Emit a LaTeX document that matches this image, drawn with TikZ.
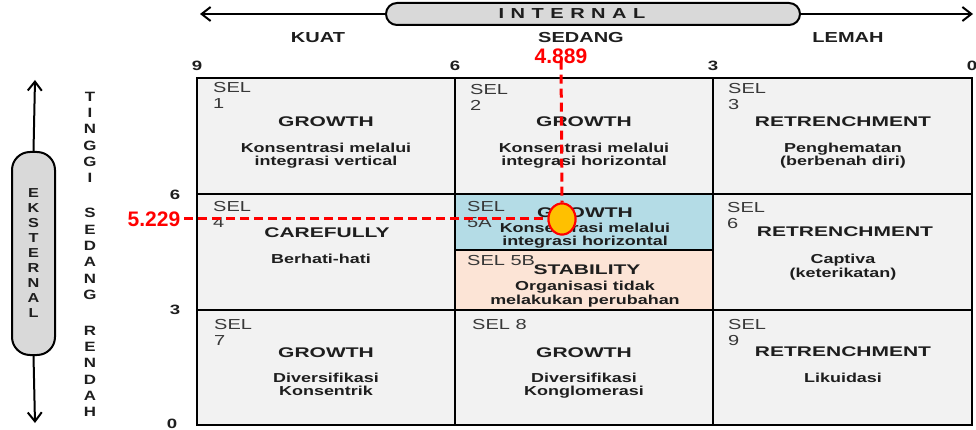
\documentclass[tikz,border=0pt]{standalone}
\usepackage{fontspec}
\setmainfont{Liberation Sans}
\newfontfamily\titlefont[FakeStretch=1.5]{Liberation Sans}
\newfontfamily\widefont[FakeStretch=1.38]{Liberation Sans}
\newfontfamily\stackfont[FakeStretch=1.25]{Liberation Sans}
\usetikzlibrary{arrows.meta,shapes.geometric}
\definecolor{cellgray}{HTML}{F2F2F2}
\definecolor{cellblue}{HTML}{B4DCE6}
\definecolor{cellpeach}{HTML}{FCE4D6}
\definecolor{boxgray}{HTML}{D9D9D9}
\definecolor{txt}{HTML}{1E1E1E}
\definecolor{selgray}{HTML}{383838}
\definecolor{markred}{HTML}{FF0000}
\definecolor{markorange}{HTML}{FFC000}
\begin{document}
\begin{tikzpicture}[x=1pt,y=-1pt,
  cell/.style={draw=black, line width=2.3pt, inner sep=0pt, outer sep=0pt},
  sel/.style={anchor=north west, inner sep=0pt, align=left, text=selgray,
    font=\widefont\fontsize{14.5}{16}\selectfont},
  ttl/.style={anchor=north, inner sep=0pt, text=txt,
    font=\titlefont\bfseries\fontsize{14}{16}\selectfont},
  sub/.style={anchor=north, inner sep=0pt, align=center, text=txt,
    font=\widefont\bfseries\fontsize{13}{13.5}\selectfont},
  axlbl/.style={inner sep=0pt, text=txt, font=\widefont\bfseries\fontsize{14.5}{16}\selectfont},
  numlbl/.style={inner sep=0pt, text=txt, font=\widefont\bfseries\fontsize{13.5}{15}\selectfont},
  stackl/.style={inner sep=0pt, align=center, text=txt,
    font=\stackfont\bfseries\fontsize{13.5}{16.3}\selectfont},
  redlbl/.style={inner sep=0pt, text=markred, font=\bfseries\fontsize{21}{23}\selectfont},
  axis/.style={line width=2pt, -{Straight Barb[length=9pt,width=14pt]}},
  reddash/.style={draw=markred, line width=3pt, dash pattern=on 9pt off 5pt}
]
\useasboundingbox (0,0) rectangle (976,430);

% ---------- top axis ----------
\node[draw=black, line width=2pt, fill=boxgray, rounded corners=11pt,
      minimum width=414pt, minimum height=22pt, inner sep=0pt,
      font=\widefont\bfseries\fontsize{14.5}{16}\selectfont, text=txt]
  (internal) at (593,14) {I\hspace{6.5pt}N\hspace{6.5pt}T\hspace{6.5pt}E\hspace{6.5pt}R\hspace{6.5pt}N\hspace{6.5pt}A\hspace{6.5pt}L\hspace*{42pt}};
\coordinate (tl) at (200,14);
\coordinate (tr) at (973,14);
\draw[axis] (internal.west) -- (tl);
\draw[axis] (internal.east) -- (tr);

\node[axlbl] (kuat) at (318,38) {KUAT};
\node[axlbl] (sedangx) at (581,38) {SEDANG};
\node[axlbl] (lemah) at (848,38) {LEMAH};

\node[numlbl] (x9) at (197,66) {9};
\node[numlbl] (x6) at (455,66) {6};
\node[numlbl] (x3) at (713,66) {3};
\node[numlbl] (x0) at (972,66) {0};

% ---------- left axis ----------
\node[draw=black, line width=2pt, fill=boxgray, rounded corners=18pt,
      minimum width=43pt, minimum height=203pt, inner sep=0pt, align=center,
      font=\stackfont\bfseries\fontsize{13}{15}\selectfont, text=txt]
  (ekst) at (33.5,253.5) {E\\K\\S\\T\\E\\R\\N\\A\\L};
\coordinate (vt) at (35,80);
\coordinate (vb) at (35,423);
\draw[axis] (ekst.north) -- (vt);
\draw[axis] (ekst.south) -- (vb);

\node[stackl] (tinggi) at (90,137.5) {T\\I\\N\\G\\G\\I};
\node[stackl] (sedangy) at (90,254) {S\\E\\D\\A\\N\\G};
\node[stackl] (rendah) at (90,371.5) {R\\E\\N\\D\\A\\H};

\node[numlbl] (y6) at (175,195) {6};
\node[numlbl] (y3) at (175,310) {3};
\node[numlbl] (y0) at (172,424) {0};

% ---------- grid cells ----------
\node[cell, fill=cellgray, minimum width=258pt, minimum height=116pt] (c1) at (326,136) {};
\node[cell, fill=cellgray, minimum width=258pt, minimum height=116pt] (c2) at (584,136) {};
\node[cell, fill=cellgray, minimum width=259pt, minimum height=116pt] (c3) at (842.5,136) {};
\node[cell, fill=cellgray, minimum width=258pt, minimum height=116pt] (c4) at (326,252) {};
\node[cell, fill=cellblue, minimum width=258pt, minimum height=56pt] (c5a) at (584,222) {};
\node[cell, fill=cellpeach, minimum width=258pt, minimum height=60pt] (c5b) at (584,280) {};
\node[cell, fill=cellgray, minimum width=259pt, minimum height=116pt] (c6) at (842.5,252) {};
\node[cell, fill=cellgray, minimum width=258pt, minimum height=115pt] (c7) at (326,367.5) {};
\node[cell, fill=cellgray, minimum width=258pt, minimum height=115pt] (c8) at (584,367.5) {};
\node[cell, fill=cellgray, minimum width=259pt, minimum height=115pt] (c9) at (842.5,367.5) {};

% ---------- cell texts ----------
% cell 1
\node[sel] (s1) at (213,82.5) {SEL\\1};
\node[ttl] (t1) at (326,116.5) {GROWTH};
\node[sub] (d1) at (326,142.5) {Konsentrasi melalui\\integrasi vertical};
% cell 2
\node[sel] (s2) at (470,84) {SEL\\2};
\node[ttl] (t2) at (584,116.5) {GROWTH};
\node[sub] (d2) at (584,142.5) {Konsentrasi melalui\\integrasi horizontal};
% cell 3
\node[sel] (s3) at (728,83) {SEL\\3};
\node[ttl] (t3) at (843,116.5) {RETRENCHMENT};
\node[sub] (d3) at (843,142.5) {Penghematan\\(berbenah diri)};
% cell 4
\node[sel] (s4) at (213,201.5) {SEL\\4};
\node[ttl] (t4) at (327,228) {CAREFULLY};
\node[sub] (d4) at (321,254) {Berhati-hati};
% cell 5A
\node[sel] (s5a) at (467,201) {SEL\\5A};
\node[ttl] (t5a) at (585,208) {GROWTH};
\node[sub, font=\widefont\bfseries\fontsize{13}{12.5}\selectfont] (d5a) at (585,223) {Konsentrasi melalui\\integrasi horizontal};
% cell 5B
\node[sel] (s5b) at (467,255.5) {SEL 5B};
\node[ttl] (t5b) at (587,265) {STABILITY};
\node[sub, font=\widefont\bfseries\fontsize{13}{14}\selectfont] (d5b) at (585,280.5) {Organisasi tidak\\melakukan perubahan};
% cell 6
\node[sel] (s6) at (727,202) {SEL\\6};
\node[ttl] (t6) at (845,227) {RETRENCHMENT};
\node[sub] (d6) at (843,254) {Captiva\\(keterikatan)};
% cell 7
\node[sel] (s7) at (214,319) {SEL\\7};
\node[ttl] (t7) at (326,348) {GROWTH};
\node[sub] (d7) at (326,372.5) {Diversifikasi\\Konsentrik};
% cell 8
\node[sel] (s8) at (472,319) {SEL 8};
\node[ttl] (t8) at (584,348) {GROWTH};
\node[sub] (d8) at (584,372.5) {Diversifikasi\\Konglomerasi};
% cell 9
\node[sel] (s9) at (728,319) {SEL\\9};
\node[ttl] (t9) at (843,346.5) {RETRENCHMENT};
\node[sub] (d9) at (843,372.5) {Likuidasi};

% ---------- position marker ----------
\node[redlbl] (lx) at (561,56) {4.889};
\node[redlbl] (ly) at (154,219) {5.229};
\node[ellipse, draw=markred, line width=2pt, fill=markorange,
      minimum width=27pt, minimum height=31pt, inner sep=0pt] (pt) at (562,219) {};
\draw[reddash] ([yshift=3pt]lx.south) -- (pt.north);
\draw[reddash] ([xshift=4pt]ly.east) -- (pt.west);
\node[ellipse, draw=markred, line width=2pt, fill=markorange,
      minimum width=27pt, minimum height=31pt, inner sep=0pt] at (pt) {};
\end{tikzpicture}
\end{document}
